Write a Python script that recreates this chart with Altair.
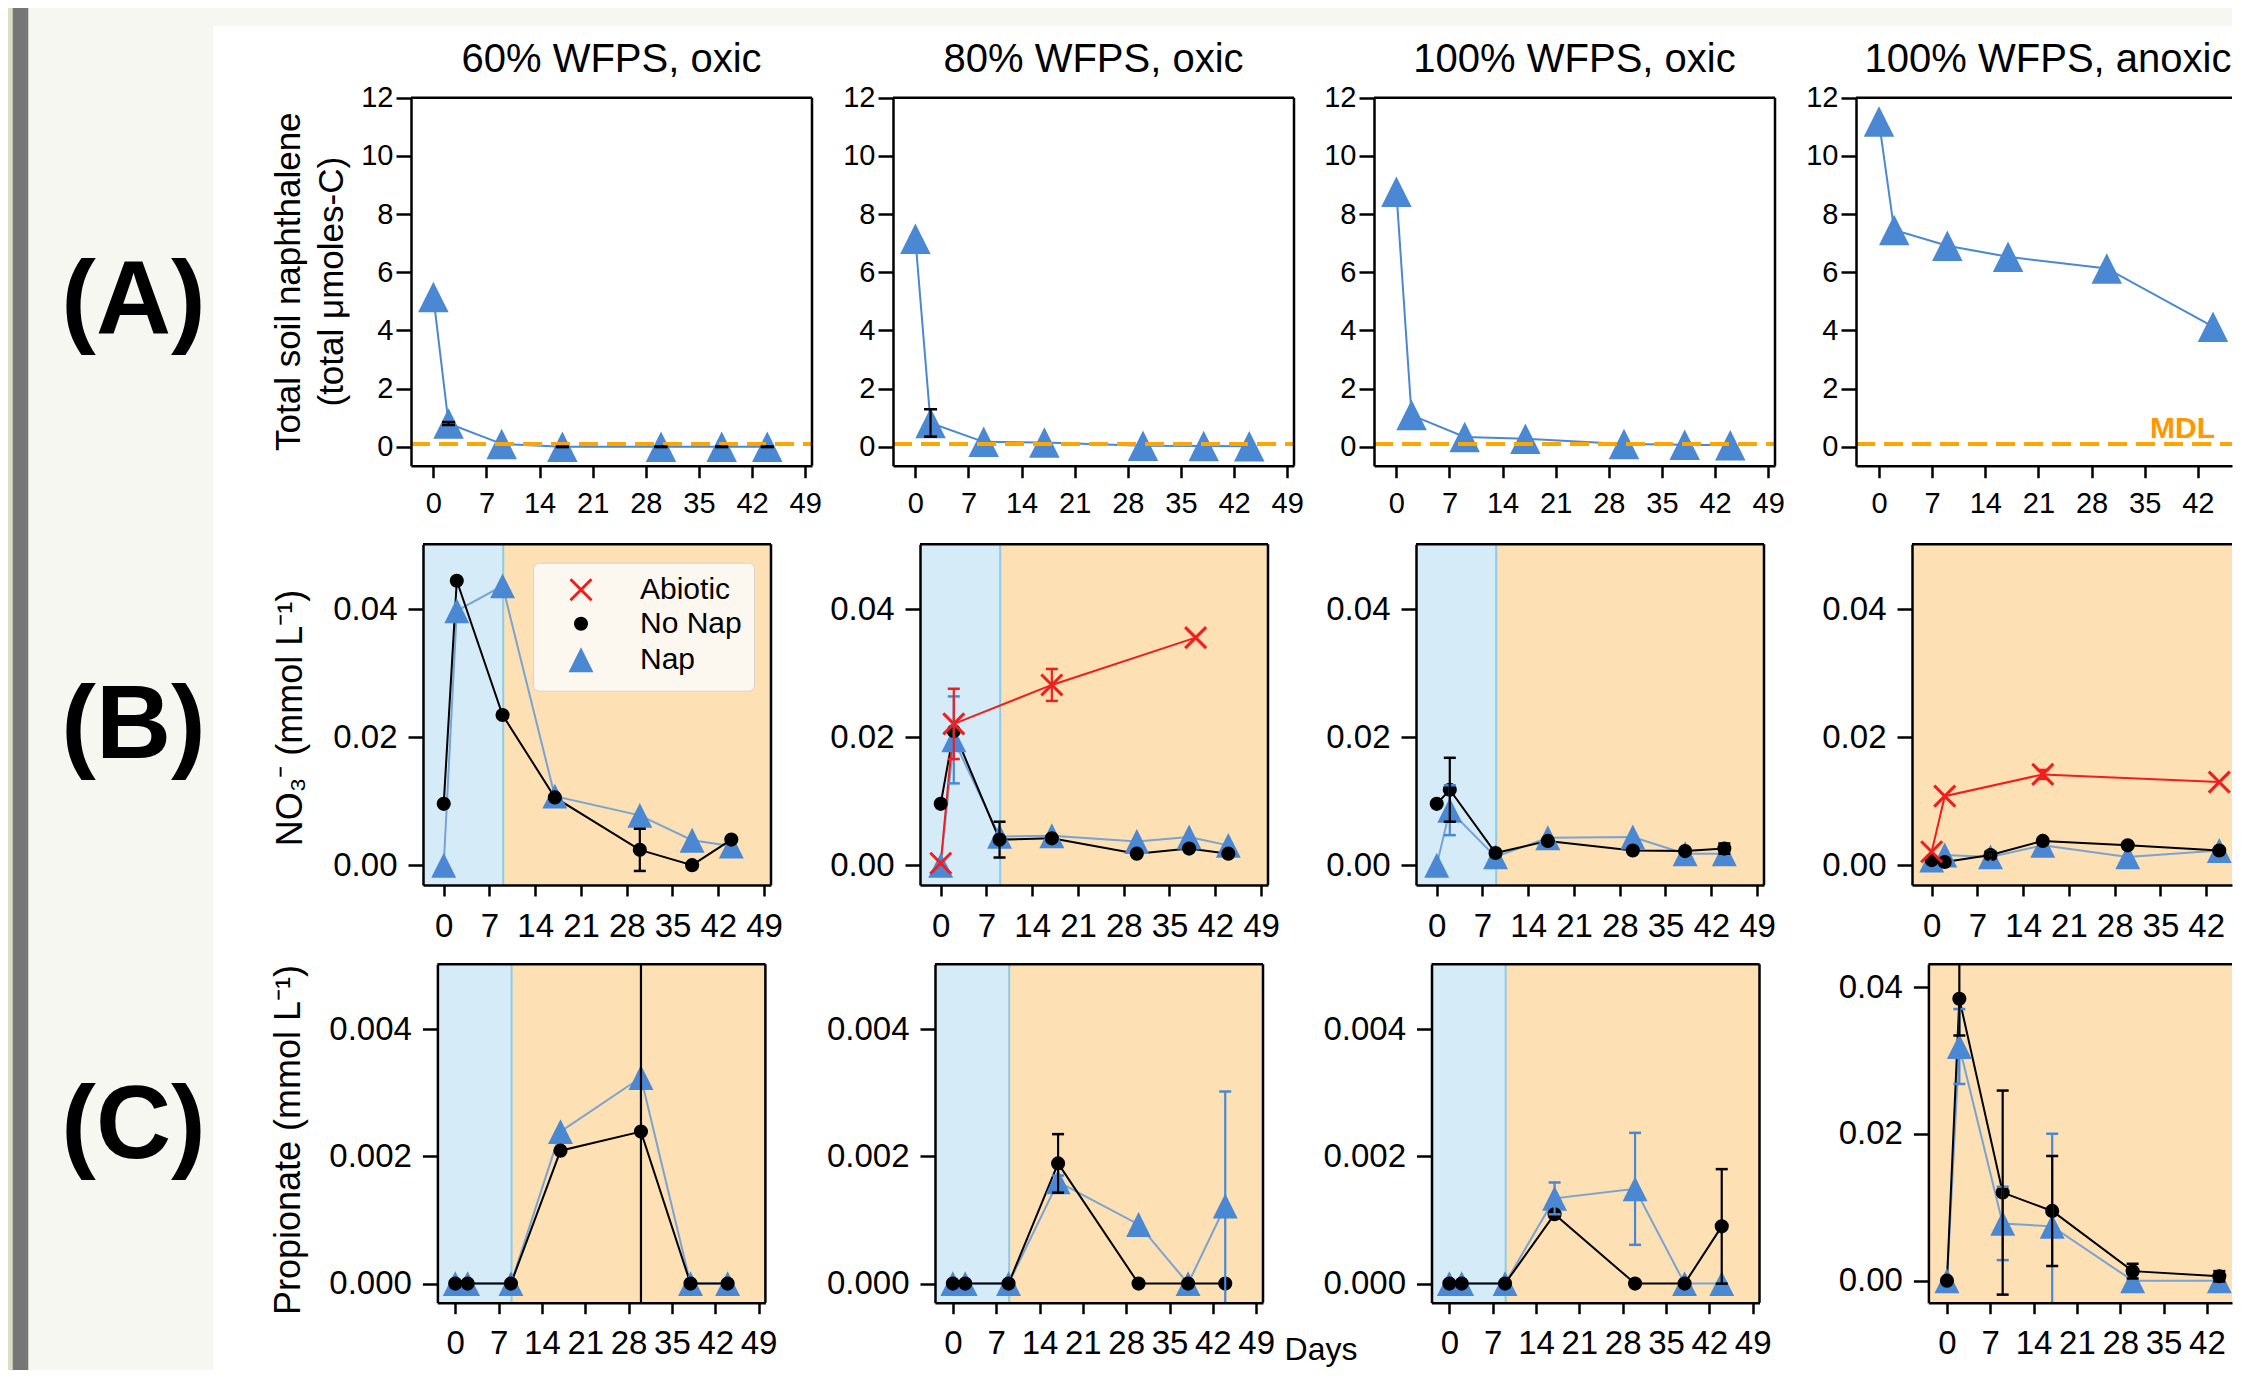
import altair as alt
import pandas as pd

FONT = "Liberation Sans"

# ---------------- data ----------------
SERIES = ["Abiotic", "No Nap", "Nap"]
PANEL_TITLES = ["60% WFPS, oxic", "80% WFPS, oxic", "100% WFPS, oxic", "100% WFPS, anoxic"]
ROW_LABELS = ["(A)", "(B)", "(C)"]
A_YTITLE = ["Total soil naphthalene", "(total \u03bcmoles-C)"]
B_YTITLE = "NO\u2083\u207b (mmol L\u207b\u00b9)"
C_YTITLE = "Propionate (mmol L\u207b\u00b9)"
X_TITLE = "Days"

DAY_TICKS = [0, 7, 14, 21, 28, 35, 42, 49]
A_Y_TICKS = [0, 2, 4, 6, 8, 10, 12]
B_Y_TICKS = [0.0, 0.02, 0.04]
C_Y_TICKS = [0.0, 0.002, 0.004]
C4_Y_TICKS = [0.0, 0.02, 0.04]

DAYS = [0, 2, 9, 17, 30, 38, 44]
DAYS_ANOX = [0, 2, 9, 17, 30, 44]
ABIOTIC_DAYS_80 = [0, 2, 17, 39]
ABIOTIC_DAYS_ANOX = [0, 2, 17, 44]
SHADE_END = 9.1
MDL = 0.1

# (A) total soil naphthalene
NAPH_60 = [5.15, 0.80, 0.10, 0.00, 0.00, 0.00, 0.00]
NAPH_60_ERR = [0, 0.05, 0, 0.01, 0.01, 0.01, 0.01]
NAPH_80 = [7.15, 0.82, 0.17, 0.15, 0.04, 0.03, 0.02]
NAPH_80_ERR = [0, 0.47, 0, 0, 0, 0, 0]
NAPH_100 = [8.77, 1.09, 0.34, 0.28, 0.10, 0.07, 0.05]
NAPH_100_ERR = [0, 0, 0, 0, 0, 0, 0]
NAPH_ANOX = [11.18, 7.45, 6.91, 6.53, 6.13, 4.13]
NAPH_ANOX_ERR = [0, 0, 0, 0, 0, 0]

# (B) nitrate
NO3_60_NONAP = [0.0096, 0.0445, 0.0235, 0.0106, 0.0024, 0.0000, 0.0040]
NO3_60_NONAP_ERR = [0, 0, 0, 0, 0.0033, 0, 0]
NO3_60_NAP = [0.0000, 0.0398, 0.0437, 0.0108, 0.0078, 0.0039, 0.0030]
NO3_60_NAP_ERR = [0, 0, 0, 0, 0, 0, 0]
NO3_80_NONAP = [0.0096, 0.0210, 0.0040, 0.0042, 0.0018, 0.0026, 0.0018]
NO3_80_NONAP_ERR = [0, 0, 0.0028, 0, 0, 0, 0]
NO3_80_NAP = [0.0000, 0.0196, 0.0045, 0.0046, 0.0037, 0.0044, 0.0031]
NO3_80_NAP_ERR = [0, 0.0068, 0, 0, 0, 0, 0]
NO3_80_ABIOTIC = [0.0003, 0.0221, 0.0282, 0.0356]
NO3_80_ABIOTIC_ERR = [0, 0.0055, 0.0025, 0]
NO3_100_NONAP = [0.0096, 0.0118, 0.0019, 0.0038, 0.0023, 0.0022, 0.0026]
NO3_100_NONAP_ERR = [0, 0.0050, 0, 0, 0, 0, 0.0008]
NO3_100_NAP = [0.0000, 0.0086, 0.0013, 0.0043, 0.0044, 0.0018, 0.0018]
NO3_100_NAP_ERR = [0, 0.0039, 0, 0, 0, 0, 0]
NO3_ANOX_NONAP = [0.0008, 0.0005, 0.0016, 0.0038, 0.0031, 0.0023]
NO3_ANOX_NONAP_ERR = [0, 0, 0.0005, 0, 0, 0.0003]
NO3_ANOX_NAP = [0.0008, 0.0016, 0.0013, 0.0031, 0.0013, 0.0023]
NO3_ANOX_NAP_ERR = [0, 0, 0.0008, 0, 0, 0]
NO3_ANOX_ABIOTIC = [0.0021, 0.0108, 0.0142, 0.0130]
NO3_ANOX_ABIOTIC_ERR = [0, 0, 0.0007, 0]

# (C) propionate
PROP_60_NONAP = [0, 0, 0, 0.00209, 0.00239, 0, 0]
PROP_60_NONAP_ERR = [0, 0, 0, 0, 0.006, 0, 0]
PROP_60_NAP = [0, 0, 0, 0.00239, 0.00324, 0, 0]
PROP_60_NAP_ERR = [0, 0, 0, 0, 0, 0, 0]
PROP_80_NONAP = [0, 0, 0, 0.00189, 0, 0, 0]
PROP_80_NONAP_ERR = [0, 0, 0, 0.00046, 0, 0, 0]
PROP_80_NAP = [0, 0, 0, 0.00160, 0.00093, 0, 0.00122]
PROP_80_NAP_ERR = [0, 0, 0, 0.0001, 0, 0, 0.0018]
PROP_100_NONAP = [0, 0, 0, 0.00109, 0, 0, 0.00090]
PROP_100_NONAP_ERR = [0, 0, 0, 0, 0, 0, 0.0009]
PROP_100_NAP = [0, 0, 0, 0.00134, 0.00149, 0, 0]
PROP_100_NAP_ERR = [0, 0, 0, 0.00025, 0.00088, 0, 0]
PROP_ANOX_NONAP = [0, 0.0384, 0.0120, 0.0095, 0.0013, 0.0006]
PROP_ANOX_NONAP_ERR = [0, 0.0050, 0.0139, 0.0075, 0.0010, 0.0007]
PROP_ANOX_NAP = [0, 0.0319, 0.0078, 0.0074, 0, 0]
PROP_ANOX_NAP_ERR = [0, 0.0051, 0.0050, 0.0126, 0, 0]

NAPH = [NAPH_60, NAPH_80, NAPH_100, NAPH_ANOX]
NAPH_ERR = [NAPH_60_ERR, NAPH_80_ERR, NAPH_100_ERR, NAPH_ANOX_ERR]
ROWDATA = {
    "B": dict(
        nonap=[NO3_60_NONAP, NO3_80_NONAP, NO3_100_NONAP, NO3_ANOX_NONAP],
        nonap_err=[NO3_60_NONAP_ERR, NO3_80_NONAP_ERR, NO3_100_NONAP_ERR, NO3_ANOX_NONAP_ERR],
        nap=[NO3_60_NAP, NO3_80_NAP, NO3_100_NAP, NO3_ANOX_NAP],
        nap_err=[NO3_60_NAP_ERR, NO3_80_NAP_ERR, NO3_100_NAP_ERR, NO3_ANOX_NAP_ERR],
        abio=[None, (ABIOTIC_DAYS_80, NO3_80_ABIOTIC, NO3_80_ABIOTIC_ERR), None,
              (ABIOTIC_DAYS_ANOX, NO3_ANOX_ABIOTIC, NO3_ANOX_ABIOTIC_ERR)],
    ),
    "C": dict(
        nonap=[PROP_60_NONAP, PROP_80_NONAP, PROP_100_NONAP, PROP_ANOX_NONAP],
        nonap_err=[PROP_60_NONAP_ERR, PROP_80_NONAP_ERR, PROP_100_NONAP_ERR, PROP_ANOX_NONAP_ERR],
        nap=[PROP_60_NAP, PROP_80_NAP, PROP_100_NAP, PROP_ANOX_NAP],
        nap_err=[PROP_60_NAP_ERR, PROP_80_NAP_ERR, PROP_100_NAP_ERR, PROP_ANOX_NAP_ERR],
        abio=[None, None, None, None],
    ),
}

# ---------------- styles / layout (pixels inside one 2224 x 1362 view) ----------------
W, H = 2224, 1362
BLUE = "#4a88d4"
NAPLINE = "#7aa3d2"
RED = "#f01e1e"
MDL_COLOR = "#ffa500"
MDL_TEXT = "#ff9800"
LBLUE = "#d5ebf7"
LORANGE = "#fde0b3"
EDGE = "#8ccbea"
TRI = "M0,-1L1,1L-1,1Z"
XPATH = "M-1,-1L1,1M1,-1L-1,1"
ONE = pd.DataFrame({"k": [0]})

A_BOX = [(403, 804), (885, 1286), (1366, 1767), (1848, 2224)]
A_TB = (89.7, 457.7)
A_XDOM = [[-2.95, 49.9]] * 3 + [[-3.03, 46.5]]
A_YDOM = [-0.65, 12]
BOX = {"B": [(415, 763), (912, 1260), (1408, 1756), (1904, 2224)],
       "C": [(429.4, 757.4), (927, 1255), (1423.5, 1751.5), (1920.4, 2224)]}
TB = {"B": (536.3, 877), "C": (956.3, 1294.7)}
XDOM = {"B": [[-3.17, 50.07]] * 3 + [[-3.01, 45.95]],
        "C": [[-2.88, 50.1]] * 3 + [[-3.0, 46.05]]}
TITLE_X = [603.5, 1085.5, 1566.5, 2040]


def xaxis(vals, fs, tick, pad, bottom):
    return alt.Axis(values=vals, title=None, grid=False, format="d", orient="bottom",
                    offset=bottom - H, labelFont=FONT, labelFontSize=fs, labelColor="black",
                    labelPadding=pad, labelOverlap=False, labelFlush=False, labelBound=False,
                    tickSize=tick, tickWidth=2.5, tickColor="black", domainColor="black",
                    domainWidth=2.5, zindex=1)


def yaxis(vals, fmt, fs, tick, pad, left):
    return alt.Axis(values=vals, title=None, grid=False, format=fmt, orient="left", offset=-left,
                    labelFont=FONT, labelFontSize=fs, labelColor="black", labelPadding=pad,
                    labelOverlap=False, labelFlush=False, labelBound=False, tickSize=tick,
                    tickWidth=2.5, tickColor="black", domainColor="black", domainWidth=2.5,
                    zindex=1)


def frame(dom, ydom, X, Y, right=True):
    top = alt.Chart(pd.DataFrame({"day": [dom[0]], "day2": [dom[1]], "val": [ydom[1]]})).mark_rule(
        color="black", strokeWidth=2.5).encode(x=X, x2="day2:Q", y=Y)
    out = [top]
    if right:
        out.append(alt.Chart(pd.DataFrame({"day": [dom[1]], "val": [ydom[0]], "val2": [ydom[1]]}))
                   .mark_rule(color="black", strokeWidth=2.5).encode(x=X, y=Y, y2="val2:Q"))
    return out


def errbars(days, vals, errs, color, X, ysc, yax, ydom, cap=12):
    rows = [(d, v - e, v + e) for d, v, e in zip(days, vals, errs) if e > 0]
    if not rows:
        return []
    df = pd.DataFrame(rows, columns=["day", "lo", "hi"])
    cd, cv = [], []
    for d, lo, hi in rows:
        for c in (lo, hi):
            if ydom[0] <= c <= ydom[1]:
                cd.append(d)
                cv.append(c)
    out = [alt.Chart(df).mark_rule(color=color, strokeWidth=2.2).encode(
        x=X, y=alt.Y("lo:Q", scale=ysc, axis=yax), y2="hi:Q")]
    if cd:
        out.append(alt.Chart(pd.DataFrame({"day": cd, "cap": cv})).mark_tick(
            color=color, orient="horizontal", size=cap, thickness=2.5, opacity=1).encode(
            x=X, y=alt.Y("cap:Q", scale=ysc, axis=yax)))
    return out


def panel_A(i):
    days = DAYS_ANOX if i == 3 else DAYS
    (l, r), (t, b), dom = A_BOX[i], A_TB, A_XDOM[i]
    X = alt.X("day:Q", scale=alt.Scale(domain=dom, range=[l, r], nice=False, zero=False),
              axis=xaxis([v for v in DAY_TICKS if dom[0] <= v <= dom[1]], 29, 12, 12, b))
    ysc = alt.Scale(domain=A_YDOM, range=[b, t], nice=False, zero=False, clamp=True)
    yax = yaxis(A_Y_TICKS, "d", 29, 15, 3, l)
    Y = alt.Y("val:Q", scale=ysc, axis=yax)
    df = pd.DataFrame({"day": days, "val": NAPH[i]})
    line = alt.Chart(df).mark_line(color=BLUE, strokeWidth=2).encode(x=X, y=Y)
    pts = alt.Chart(df).mark_point(shape=TRI, filled=True, size=930, color=BLUE, opacity=1,
                                   strokeWidth=0).encode(x=X, y=Y)
    mdl = alt.Chart(pd.DataFrame({"day": [dom[0]], "day2": [dom[1]], "val": [MDL]})).mark_rule(
        color=MDL_COLOR, strokeWidth=4, strokeDash=[19, 9]).encode(x=X, x2="day2:Q", y=Y)
    layers = [line, pts, mdl]
    layers += errbars(days, NAPH[i], NAPH_ERR[i], "black", X, ysc, yax, A_YDOM, 13)
    layers += frame(dom, A_YDOM, X, Y, i < 3)
    if i == 3:
        layers.append(alt.Chart(pd.DataFrame({"day": [35.7], "val": [0.3]})).mark_text(
            text="MDL", font=FONT, fontSize=30, fontWeight="bold", color=MDL_TEXT,
            align="left", baseline="alphabetic").encode(x=X, y=Y))
    return alt.layer(*layers)


def panel_BC(rk, i):
    data = ROWDATA[rk]
    (l, r), (t, b), dom = BOX[rk][i], TB[rk], XDOM[rk][i]
    days = DAYS_ANOX if i == 3 else DAYS
    X = alt.X("day:Q", scale=alt.Scale(domain=dom, range=[l, r], nice=False, zero=False),
              axis=xaxis([v for v in DAY_TICKS if dom[0] <= v <= dom[1]], 33, 11, 14, b))
    if rk == "B":
        ydom, yt, fmt = [-0.0031, 0.0502], B_Y_TICKS, ".2f"
    elif i < 3:
        ydom, yt, fmt = [-0.0003, 0.00502], C_Y_TICKS, ".3f"
    else:
        ydom, yt, fmt = [-0.003, 0.0431], C4_Y_TICKS, ".2f"
    ysc = alt.Scale(domain=ydom, range=[b, t], nice=False, zero=False, clamp=True)
    yax = yaxis(yt, fmt, 33, 15, 11, l)
    Y = alt.Y("val:Q", scale=ysc, axis=yax)

    def band(x0, x1, color):
        return alt.Chart(pd.DataFrame({"day": [x0], "day2": [x1], "val": [ydom[0]],
                                       "val2": [ydom[1]]})).mark_rect(color=color, opacity=1).encode(
            x=X, x2="day2:Q", y=Y, y2="val2:Q")

    layers = []
    if i < 3:
        layers.append(band(dom[0], SHADE_END, LBLUE))
        layers.append(band(SHADE_END, dom[1], LORANGE))
        layers.append(alt.Chart(pd.DataFrame({"day": [SHADE_END], "val": [ydom[0]],
                                              "val2": [ydom[1]]})).mark_rule(
            color=EDGE, strokeWidth=2).encode(x=X, y=Y, y2="val2:Q"))
    else:
        layers.append(band(dom[0], dom[1], LORANGE))

    nap, nonap, abio = data["nap"][i], data["nonap"][i], data["abio"][i]
    layers.append(alt.Chart(pd.DataFrame({"day": days, "val": nap})).mark_line(
        color=NAPLINE, strokeWidth=2).encode(x=X, y=Y))
    layers.append(alt.Chart(pd.DataFrame({"day": days, "val": nonap})).mark_line(
        color="black", strokeWidth=2).encode(x=X, y=Y))
    if abio is not None:
        layers.append(alt.Chart(pd.DataFrame({"day": abio[0], "val": abio[1]})).mark_line(
            color=RED, strokeWidth=2).encode(x=X, y=Y))

    frames = [pd.DataFrame({"day": days, "val": nap, "series": "Nap"}),
              pd.DataFrame({"day": days, "val": nonap, "series": "No Nap"})]
    if abio is not None:
        frames.append(pd.DataFrame({"day": abio[0], "val": abio[1], "series": "Abiotic"}))
    pts_df = pd.concat(frames, ignore_index=True)

    if rk == "B" and i == 0:
        leg = alt.Legend(orient="none", legendX=525, legendY=554.7, title=None,
                         direction="vertical", padding=12, fillColor="#fdf8ef",
                         strokeColor="#d8d3cb", cornerRadius=6, labelFont=FONT,
                         labelFontSize=30, labelColor="black", labelOffset=44,
                         symbolOffset=21, rowPadding=2, symbolStrokeWidth=3, labelLimit=400)
    else:
        leg = None
    pts = alt.Chart(pts_df).mark_point(filled=True, opacity=1, strokeWidth=3).encode(
        x=X, y=Y,
        fill=alt.Fill("series:N", scale=alt.Scale(domain=SERIES, range=[RED, "black", BLUE]),
                      legend=leg),
        stroke=alt.Stroke("series:N", scale=alt.Scale(domain=SERIES,
                                                      range=[RED, "transparent", "transparent"]),
                          legend=leg),
        shape=alt.Shape("series:N", scale=alt.Scale(domain=SERIES, range=[XPATH, "circle", TRI]),
                        legend=leg),
        size=alt.Size("series:N", scale=alt.Scale(type="ordinal", domain=SERIES,
                                                  range=[440, 200, 620]), legend=leg),
    )
    layers.append(pts)
    layers += errbars(days, nap, data["nap_err"][i], BLUE, X, ysc, yax, ydom)
    layers += errbars(days, nonap, data["nonap_err"][i], "black", X, ysc, yax, ydom)
    if abio is not None:
        layers += errbars(abio[0], abio[1], abio[2], RED, X, ysc, yax, ydom)
    layers += frame(dom, ydom, X, Y, i < 3)
    return alt.layer(*layers)


def text_at(txt, x, y, size, weight="normal", angle=0, align="center", baseline="middle",
            lh=None):
    kw = dict(text=txt, font=FONT, fontSize=size, fontWeight=weight, color="black",
              align=align, baseline=baseline, angle=angle)
    if lh is not None:
        kw["lineHeight"] = lh
    return alt.Chart(ONE).mark_text(**kw).encode(x=alt.value(x), y=alt.value(y))


def rect_at(x0, x1, y0, y1, color):
    return alt.Chart(ONE).mark_rect(color=color, opacity=1).encode(
        x=alt.value(x0), x2=alt.value(x1), y=alt.value(y0), y2=alt.value(y1))


deco = [
    rect_at(0, W, 0, H, "#f6f7f1"),
    rect_at(0, 4.7, 0, H, "#d9dfc0"),
    rect_at(4.7, 20.3, 0, H, "#767676"),
    rect_at(205.3, W, 18, H, "white"),
]
for lab, yc in zip(ROW_LABELS, [294, 719, 1119]):
    deco.append(text_at(lab, 125.5, yc, 104, weight="bold"))
for tx, title in zip(TITLE_X, PANEL_TITLES):
    deco.append(text_at(title, tx, 63.7, 40, baseline="alphabetic"))
deco.append(text_at(A_YTITLE, 280.5, 273.7, 35, angle=270, lh=43))
deco.append(text_at(B_YTITLE, 283, 710, 36, angle=270))
deco.append(text_at(C_YTITLE, 280.5, 1132, 36, angle=270))
deco.append(text_at(X_TITLE, 1313, 1327, 32, baseline="top"))

panels = [panel_A(i) for i in range(4)]
panels += [panel_BC("B", i) for i in range(4)]
panels += [panel_BC("C", i) for i in range(4)]

chart = alt.layer(*deco, *panels).resolve_scale(
    x="independent", y="independent", fill="independent", stroke="independent",
    shape="independent", size="independent"
).properties(width=W, height=H, padding=0).configure(font=FONT).configure_view(strokeWidth=0)

chart.save("out.html", embed_options={"renderer": "svg", "actions": False})
